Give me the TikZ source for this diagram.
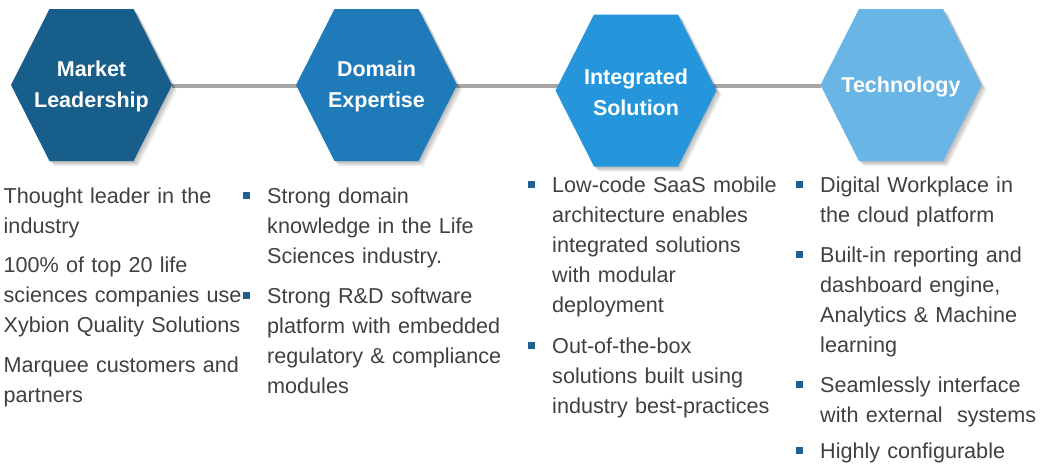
\documentclass[tikz,border=0pt]{standalone}
\usepackage{fontspec}
\setmainfont{Liberation Sans}
\usetikzlibrary{calc}
\definecolor{hexA}{HTML}{175E8A}
\definecolor{hexB}{HTML}{1E7AB8}
\definecolor{hexC}{HTML}{2596DC}
\definecolor{hexD}{HTML}{68B5E6}
\definecolor{bodygray}{HTML}{404040}
\definecolor{bulblue}{HTML}{1F6090}
\definecolor{linkgray}{HTML}{A5A5A5}
\pgfdeclarelayer{background}
\pgfsetlayers{background,main}
\newcommand\hexnode[5]{%
  \begin{scope}[shift={(#2,#3)}]
    \foreach \o in {1,2,3,4,5} {
      \fill[black,opacity=0.06,shift={(\o,\o)}] (-80.5,0) -- (-42,-76) -- (42,-76) -- (80.5,0) -- (42,76) -- (-42,76) -- cycle;
    }
    \fill[#4] (-80.5,0) -- (-42,-76) -- (42,-76) -- (80.5,0) -- (42,76) -- (-42,76) -- cycle;
    \coordinate (#1-l) at (-80.5,0);
    \coordinate (#1-r) at (80.5,0);
    \node[hexlabel] (#1) at (0,1.5) {#5};
  \end{scope}}
\begin{document}
\begin{tikzpicture}[x=1pt,y=-1pt,
  hexlabel/.style={text=white,font=\bfseries\fontsize{21.5}{31}\selectfont,align=center,inner sep=0},
  body/.style={text=bodygray,font=\fontsize{21.6}{30.2}\selectfont,anchor=base west,inner sep=0,text width=300pt,align=left},
  bul/.style={fill=bulblue,minimum size=7pt,inner sep=0,draw=none,rectangle},
  link/.style={draw=linkgray,line width=4.5pt}]
\useasboundingbox (0,0) rectangle (1053,464);

\hexnode{h1}{91.5}{85}{hexA}{Market\\Leadership}
\hexnode{h2}{376.5}{85}{hexB}{Domain\\Expertise}
\hexnode{h3}{636}{90.5}{hexC}{Integrated\\Solution}
\hexnode{h4}{901}{85}{hexD}{Technology}

\begin{pgfonlayer}{background}
  \draw[link] ([yshift=-1pt]h1-r) -- ([yshift=-1pt]h4-l);
\end{pgfonlayer}

% column 1
\node[body] (c1a) at (3.5,203) {Thought leader in the\\industry};
\node[body] (c1b) at (3.5,272.5) {100\% of top 20 life\\sciences companies use\\Xybion Quality Solutions};
\node[body] (c1c) at (3.5,372) {Marquee customers and\\partners};

% column 2
\node[body] (c2a) at (267,203) {Strong domain\\knowledge in the Life\\Sciences industry.};
\node[body] (c2b) at (267,303) {Strong R\&D software\\platform with embedded\\regulatory \& compliance\\modules};
\node[bul] (b2a) at ([shift={(-20.5,-7.5)}]c2a.base west) {};
\node[bul] (b2b) at ([shift={(-20.5,-7.5)}]c2b.base west) {};

% column 3
\node[body] (c3a) at (552,192) {Low-code SaaS mobile\\architecture enables\\integrated solutions\\with modular\\deployment};
\node[body] (c3b) at (552,353) {Out-of-the-box\\solutions built using\\industry best-practices};
\node[bul] (b3a) at ([shift={(-21,-8)}]c3a.base west) {};
\node[bul] (b3b) at ([shift={(-21,-8)}]c3b.base west) {};

% column 4
\node[body] (c4a) at (820,192) {Digital Workplace in\\the cloud platform};
\node[body] (c4b) at (820,262) {Built-in reporting and\\dashboard engine,\\Analytics \& Machine\\learning};
\node[body] (c4c) at (820,392) {Seamlessly interface\\with external\ \ systems};
\node[body] (c4d) at (820,458) {Highly configurable};
\node[bul] (b4a) at ([shift={(-20.5,-8)}]c4a.base west) {};
\node[bul] (b4b) at ([shift={(-20.5,-8)}]c4b.base west) {};
\node[bul] (b4c) at ([shift={(-20.5,-8)}]c4c.base west) {};
\node[bul] (b4d) at ([shift={(-20.5,-8)}]c4d.base west) {};
\end{tikzpicture}
\end{document}
